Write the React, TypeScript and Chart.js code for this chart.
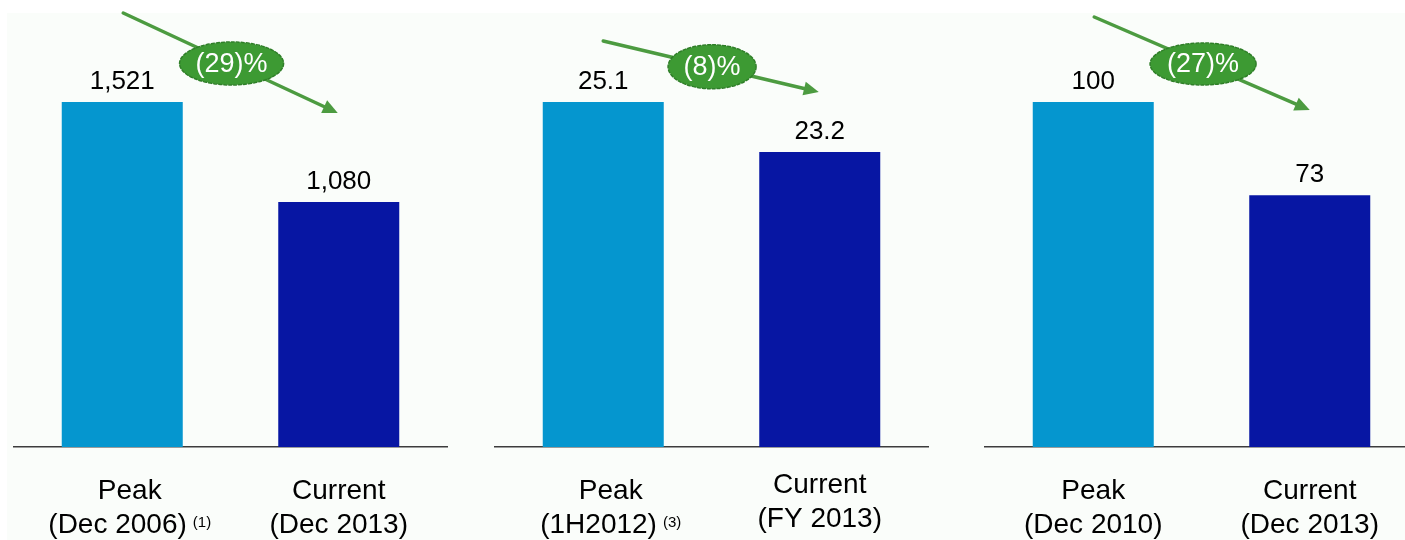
import React, { useEffect, useRef } from "react";
import { Chart, registerables } from "chart.js";

Chart.register(...registerables);

// ---------- data ----------
const panel1Categories = [["Peak", "(Dec 2006)"], ["Current", "(Dec 2013)"]];
const panel1Footnotes = ["(1)", ""];
const panel1Values = [1521, 1080];
const panel1ValueLabels = ["1,521", "1,080"];
const panel1Change = "(29)%";

const panel2Categories = [["Peak", "(1H2012)"], ["Current", "(FY 2013)"]];
const panel2Footnotes = ["(3)", ""];
const panel2Values = [25.1, 23.2];
const panel2ValueLabels = ["25.1", "23.2"];
const panel2Change = "(8)%";
const panel2AxisFloor = 12;

const panel3Categories = [["Peak", "(Dec 2010)"], ["Current", "(Dec 2013)"]];
const panel3Footnotes = ["", ""];
const panel3Values = [100, 73];
const panel3ValueLabels = ["100", "73"];
const panel3Change = "(27)%";

// ---------- styles / layout ----------
const FONT = '"Liberation Sans", Arial, Helvetica, sans-serif';
const BAR_COLORS = ["#0596CF", "#0716A3"];
const GREEN = "#3D9A33";
const GREEN_DARK = "#2F7F28";
const ARROW_GREEN = "#4C9B40";
const PAD = 12;
const TOP = 102;
const BASE = 447;
const H = 540;

type Panel = {
  categories: string[][];
  footnotes: string[];
  values: number[];
  valueLabels: string[];
  change: string;
  min: number;
  left: number;
  right: number;
  arrowY: [number, number];
  arrowDx: [number, number];
  ellipse: [number, number];
  labelDx: number[];
  labelDy: number[];
};

const panels: Panel[] = [
  {
    categories: panel1Categories, footnotes: panel1Footnotes, values: panel1Values,
    valueLabels: panel1ValueLabels, change: panel1Change, min: 0,
    left: 14.25, right: 447.25, arrowY: [13, 113], arrowDx: [1, -1], ellipse: [52, 21.5],
    labelDx: [7.5, 0], labelDy: [0, 0],
  },
  {
    categories: panel2Categories, footnotes: panel2Footnotes, values: panel2Values,
    valueLabels: panel2ValueLabels, change: panel2Change, min: panel2AxisFloor,
    left: 494.75, right: 927.75, arrowY: [41, 92], arrowDx: [0, -1], ellipse: [44, 22],
    labelDx: [7.5, 0], labelDy: [0, -6],
  },
  {
    categories: panel3Categories, footnotes: panel3Footnotes, values: panel3Values,
    valueLabels: panel3ValueLabels, change: panel3Change, min: 0,
    left: 985.25, right: 1418.25, arrowY: [17, 110], arrowDx: [1, 0], ellipse: [53, 21],
    labelDx: [0, 0], labelDy: [0, 0],
  },
];

function makePlugin(p: Panel) {
  return {
    id: "decorations",
    afterDraw(chart: any) {
      const ctx = chart.ctx as CanvasRenderingContext2D;
      const meta = chart.getDatasetMeta(0);
      const bottom = chart.chartArea.bottom;
      ctx.save();
      // value labels
      ctx.fillStyle = "#000";
      ctx.textAlign = "center";
      ctx.textBaseline = "alphabetic";
      ctx.font = `26px ${FONT}`;
      meta.data.forEach((bar: any, i: number) => {
        ctx.fillText(p.valueLabels[i], bar.x, bar.y - 13);
      });
      // arrow
      const x0 = meta.data[0].x + p.arrowDx[0];
      const x1 = meta.data[1].x + p.arrowDx[1];
      const y0 = p.arrowY[0];
      const y1 = p.arrowY[1];
      const ang = Math.atan2(y1 - y0, x1 - x0);
      const headLen = 15;
      const headW = 7;
      ctx.strokeStyle = ARROW_GREEN;
      ctx.lineWidth = 3.5;
      ctx.lineCap = "round";
      ctx.beginPath();
      ctx.moveTo(x0, y0);
      ctx.lineTo(x1 - Math.cos(ang) * (headLen - 2), y1 - Math.sin(ang) * (headLen - 2));
      ctx.stroke();
      ctx.fillStyle = ARROW_GREEN;
      ctx.beginPath();
      ctx.moveTo(x1, y1);
      ctx.lineTo(
        x1 - Math.cos(ang) * headLen - Math.sin(ang) * headW,
        y1 - Math.sin(ang) * headLen + Math.cos(ang) * headW
      );
      ctx.lineTo(
        x1 - Math.cos(ang) * headLen + Math.sin(ang) * headW,
        y1 - Math.sin(ang) * headLen - Math.cos(ang) * headW
      );
      ctx.closePath();
      ctx.fill();
      // ellipse badge
      const t = 0.505;
      const cx = x0 + (x1 - x0) * t;
      const cy = y0 + (y1 - y0) * t;
      ctx.beginPath();
      ctx.ellipse(cx, cy, p.ellipse[0], p.ellipse[1], 0, 0, Math.PI * 2);
      ctx.fillStyle = GREEN;
      ctx.fill();
      ctx.setLineDash([3, 2]);
      ctx.lineWidth = 1.5;
      ctx.strokeStyle = GREEN_DARK;
      ctx.stroke();
      ctx.setLineDash([]);
      ctx.fillStyle = "#FFFFFF";
      ctx.font = `27px ${FONT}`;
      ctx.textAlign = "center";
      ctx.textBaseline = "middle";
      ctx.fillText(p.change, cx, cy + 1);
      // category labels
      ctx.fillStyle = "#000";
      ctx.textBaseline = "alphabetic";
      meta.data.forEach((bar: any, i: number) => {
        const anchor = bar.x + p.labelDx[i];
        const dy = p.labelDy[i];
        const [l1, l2] = p.categories[i];
        ctx.font = `28px ${FONT}`;
        ctx.textAlign = "center";
        ctx.fillText(l1, anchor, bottom + 52 + dy);
        const w2 = ctx.measureText(l2).width;
        const sup = p.footnotes[i];
        let ws = 0;
        if (sup) {
          ctx.font = `15px ${FONT}`;
          ws = ctx.measureText(sup).width + 6;
        }
        const start = anchor - (w2 + ws) / 2;
        ctx.font = `28px ${FONT}`;
        ctx.textAlign = "left";
        ctx.fillText(l2, start, bottom + 86 + dy);
        if (sup) {
          ctx.font = `15px ${FONT}`;
          ctx.fillText(sup, start + w2 + 6, bottom + 80 + dy);
        }
      });
      ctx.restore();
    },
  };
}

function PanelChart({ p }: { p: Panel }) {
  const ref = useRef<HTMLCanvasElement>(null);
  const width = p.right - p.left + PAD * 2;
  useEffect(() => {
    if (!ref.current) return;
    const chart = new Chart(ref.current, {
      type: "bar",
      data: {
        labels: p.categories.map((c) => c[0]),
        datasets: [
          {
            data: p.values,
            backgroundColor: BAR_COLORS,
            borderWidth: 0,
            barPercentage: 1,
            categoryPercentage: 121 / 216.5,
          },
        ],
      },
      options: {
        responsive: false,
        maintainAspectRatio: false,
        animation: false,
        events: [],
        layout: { padding: { left: PAD, right: PAD, top: TOP, bottom: H - BASE } },
        plugins: { legend: { display: false }, tooltip: { enabled: false } },
        scales: {
          x: {
            display: true,
            grid: { display: false, drawTicks: false },
            border: { display: true, color: "#3C3C3C", width: 1.5 },
            ticks: { display: false },
          },
          y: {
            display: false,
            min: p.min,
            max: Math.max(...p.values),
          },
        },
      },
      plugins: [makePlugin(p)],
    } as any);
    return () => chart.destroy();
  }, []);
  return (
    <canvas
      ref={ref}
      width={width}
      height={H}
      style={{ position: "absolute", left: p.left - PAD, top: 0, width, height: H }}
    />
  );
}

export default function App() {
  return (
    <div
      style={{
        position: "absolute",
        left: 0,
        top: 0,
        width: 1405,
        height: H,
        overflow: "hidden",
        background: "#FFFFFF",
      }}
    >
      <div
        style={{
          position: "absolute",
          left: 7,
          top: 13,
          right: 0,
          bottom: 0,
          background: "#FAFDFA",
        }}
      />
      {panels.map((p, i) => (
        <PanelChart key={i} p={p} />
      ))}
    </div>
  );
}
